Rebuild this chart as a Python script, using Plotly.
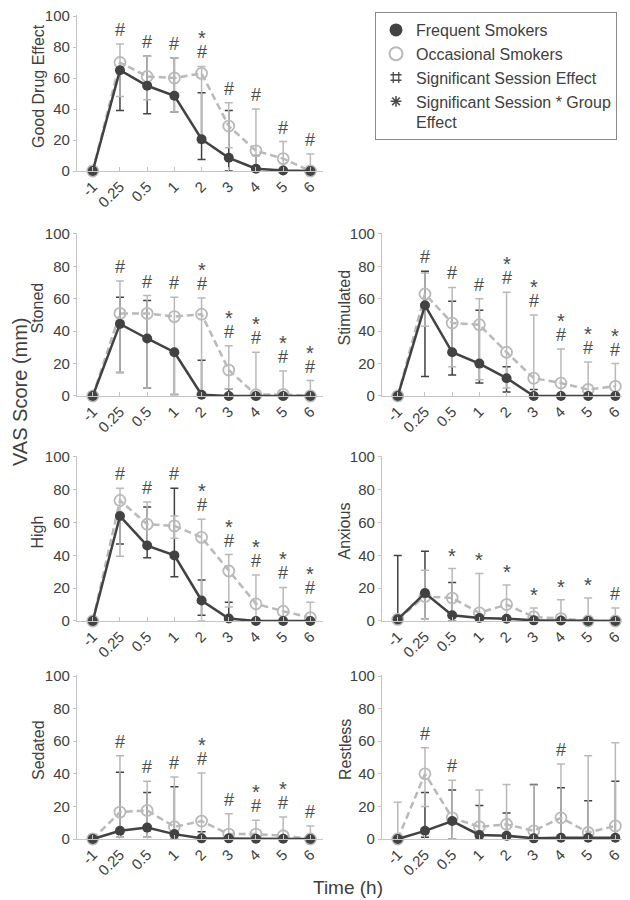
import plotly.graph_objects as go

times = ["-1", "0.25", "0.5", "1", "2", "3", "4", "5", "6"]

# ---- Good Drug Effect ----
good_freq = [0, 65, 55, 48.5, 20.5, 8.5, 1.5, 0.3, 0]
good_freq_lo = [0, 39, 37, 38, 7.5, 0, 0, 0, 0]
good_freq_hi = [0, 65, 74, 73, 50.5, 39, 10, 0.3, 0]
good_occ = [0, 70, 61, 60, 63, 29, 13, 8, 0]
good_occ_lo = [0, 48, 46, 38, 18, 15, 0, 0, 0]
good_occ_hi = [0, 82, 74, 73, 67.5, 44, 40, 19, 11]
good_session = [0, 1, 1, 1, 1, 1, 1, 1, 1]
good_inter = [0, 0, 0, 0, 1, 0, 0, 0, 0]

# ---- Stoned ----
stoned_freq = [0, 44.5, 35.5, 27, 0.8, 0, 0, 0, 0]
stoned_freq_lo = [0, 14.5, 5, 1, 0, 0, 0, 0, 0]
stoned_freq_hi = [0, 61, 59, 27, 22, 4.5, 0, 0, 0]
stoned_occ = [0, 51, 51, 49, 50.5, 16, 0.8, 1, 0]
stoned_occ_lo = [0, 14.5, 5, 1, 0, 4.5, 0, 0, 0]
stoned_occ_hi = [0, 71, 62, 61, 60.5, 31, 27, 15.5, 9.5]
stoned_session = [0, 1, 1, 1, 1, 1, 1, 1, 1]
stoned_inter = [0, 0, 0, 0, 1, 1, 1, 1, 1]

# ---- Stimulated ----
stim_freq = [0, 56, 27, 20, 11, 0, 0, 0, 0]
stim_freq_lo = [0, 12, 13, 8, 2.5, 0, 0, 0, 0]
stim_freq_hi = [0, 77, 58.5, 53, 18, 4, 0, 0, 0]
stim_occ = [0, 63, 45, 44, 27, 11, 8, 4, 6]
stim_occ_lo = [0, 43, 18, 10, 5, 0, 0, 0, 0]
stim_occ_hi = [0, 76, 67, 60, 64, 50, 29, 21, 20]
stim_session = [0, 1, 1, 1, 1, 1, 1, 1, 1]
stim_inter = [0, 0, 0, 0, 1, 1, 1, 1, 1]

# ---- High ----
high_freq = [0, 64, 46, 40, 12.5, 1.5, 0, 0, 0]
high_freq_lo = [0, 47, 38.5, 27, 3.5, 0, 0, 0, 0]
high_freq_hi = [0, 64, 69.5, 81, 25, 11.5, 0, 0, 0]
high_occ = [0, 73.5, 59, 58, 51, 30.5, 10.5, 6, 2]
high_occ_lo = [0, 39.5, 47, 50.5, 0, 8.5, 0, 0, 0]
high_occ_hi = [0, 81, 72.5, 64, 62, 40.5, 28, 20.5, 11.5]
high_session = [0, 1, 1, 1, 1, 1, 1, 1, 1]
high_inter = [0, 0, 0, 0, 1, 1, 1, 1, 1]

# ---- Anxious ----
anx_freq = [1, 17, 3.5, 1.8, 1.4, 0.4, 0.3, 0, 0]
anx_freq_lo = [0, 1, 0, 0, 0, 0, 0, 0, 0]
anx_freq_hi = [40, 42.5, 23.5, 1.8, 1.4, 0.4, 0.3, 0, 0]
anx_occ = [1, 15, 14, 5, 10, 2.5, 1.5, 0, 0]
anx_occ_lo = [0, 1, 0, 0, 0, 0, 0, 0, 0]
anx_occ_hi = [1, 31, 32, 29, 22, 8, 13, 14, 8]
anx_session = [0, 0, 0, 0, 0, 0, 0, 0, 1]
anx_inter = [0, 0, 1, 1, 1, 1, 1, 1, 0]

# ---- Sedated ----
sed_freq = [0, 5, 7, 3, 0.4, 0.4, 0.2, 0.2, 0]
sed_freq_lo = [0, 1, 1, 0, 0, 0, 0, 0, 0]
sed_freq_hi = [0, 41, 28.5, 32, 4.5, 0.4, 0.2, 0.2, 0]
sed_occ = [0, 16.5, 17.5, 7.5, 11, 3, 3, 2, 0]
sed_occ_lo = [0, 1, 1, 0, 0, 0, 0, 0, 0]
sed_occ_hi = [0, 51, 35.5, 38, 40.5, 15.5, 11.5, 13.5, 8]
sed_session = [0, 1, 1, 1, 1, 1, 1, 1, 1]
sed_inter = [0, 0, 0, 0, 1, 0, 1, 1, 0]

# ---- Restless ----
rest_freq = [0, 5, 11, 2.5, 2, 0.4, 0.8, 0.8, 0.8]
rest_freq_lo = [0, 1, 0, 0, 0, 0, 0, 0, 0]
rest_freq_hi = [0, 28.5, 30, 20.5, 16, 33.5, 31.5, 23.5, 35.5]
rest_occ = [0, 40, 13, 7.5, 9, 5, 13, 4, 8]
rest_occ_lo = [0, 20, 0, 0, 0, 0, 0, 0, 0]
rest_occ_hi = [22.5, 56, 36, 30, 33.5, 33, 46, 51, 59]
rest_session = [0, 1, 1, 0, 0, 0, 1, 0, 0]
rest_inter = [0, 0, 0, 0, 0, 0, 0, 0, 0]

panel_titles = ["Good Drug Effect", "Stoned", "Stimulated", "High", "Anxious", "Sedated", "Restless"]
yticks = [0, 20, 40, 60, 80, 100]

panels = [
    (good_freq, good_freq_lo, good_freq_hi, good_occ, good_occ_lo, good_occ_hi, good_session, good_inter),
    (stoned_freq, stoned_freq_lo, stoned_freq_hi, stoned_occ, stoned_occ_lo, stoned_occ_hi, stoned_session, stoned_inter),
    (stim_freq, stim_freq_lo, stim_freq_hi, stim_occ, stim_occ_lo, stim_occ_hi, stim_session, stim_inter),
    (high_freq, high_freq_lo, high_freq_hi, high_occ, high_occ_lo, high_occ_hi, high_session, high_inter),
    (anx_freq, anx_freq_lo, anx_freq_hi, anx_occ, anx_occ_lo, anx_occ_hi, anx_session, anx_inter),
    (sed_freq, sed_freq_lo, sed_freq_hi, sed_occ, sed_occ_lo, sed_occ_hi, sed_session, sed_inter),
    (rest_freq, rest_freq_lo, rest_freq_hi, rest_occ, rest_occ_lo, rest_occ_hi, rest_session, rest_inter),
]

# ---- layout geometry ----
# page has an 8px body margin, so the figure is offset by OFF pixels
OFF = 8
W, H = 630 - OFF, 900 - OFF


def px_x(x):
    return min(max((x - OFF) / W, 0.0), 1.0)


def px_y(y):
    return min(max(1 - (y - OFF) / H, 0.0), 1.0)


grid = [(0, 0), (1, 0), (1, 1), (2, 0), (2, 1), (3, 0), (3, 1)]
row_px = [(171, 16), (396, 234), (621, 457), (839, 676)]  # page y of 0 and of 100
col_px = [(77, 322.6), (382, 627.6)]
YMAX = 100.6
XRANGE = [-0.58, 8.45]

DARK = "#424242"
LIGHT = "#b9b9b9"
TXT = "#404040"
FONT = "Liberation Sans, Arial, sans-serif"

fig = go.Figure()
layout = {}
annotations = []

for i, (title, data) in enumerate(zip(panel_titles, panels)):
    fq, fq_lo, fq_hi, oc, oc_lo, oc_hi, sess, inter = data
    r, c = grid[i]
    n = "" if i == 0 else str(i + 1)
    xa, ya = "x" + n, "y" + n
    z, h = row_px[r]
    top = z - (YMAX / 100.0) * (z - h)
    x0, x1 = col_px[c]
    layout["xaxis" + n] = dict(
        domain=[px_x(x0), px_x(x1)], anchor=ya, type="category", automargin=False,
        categoryorder="array", categoryarray=times, range=XRANGE,
        showline=True, linecolor="#c4c4c4", linewidth=1.2, showgrid=False, zeroline=False,
        ticks="inside", ticklen=4, tickcolor="#c4c4c4", tickangle=-45,
        tickfont=dict(family=FONT, size=15, color=TXT),
    )
    layout["yaxis" + n] = dict(
        domain=[px_y(z), px_y(top)], anchor=xa, range=[0, YMAX], automargin=False,
        tickvals=yticks, showline=True, linecolor="#c4c4c4", linewidth=1.2,
        showgrid=False, zeroline=False, ticks="outside", ticklen=3, tickcolor="#c4c4c4",
        ticklabeloverflow="allow",
        tickfont=dict(family=FONT, size=15, color=TXT),
    )

    # error bars (frequent first, occasional over it)
    fig.add_trace(go.Scatter(
        x=times, y=fq, xaxis=xa, yaxis=ya, mode="markers", showlegend=False,
        marker=dict(size=1, color="rgba(0,0,0,0)"), hoverinfo="skip", cliponaxis=False,
        error_y=dict(type="data", symmetric=False,
                     array=[hv - v for hv, v in zip(fq_hi, fq)],
                     arrayminus=[v - lv for v, lv in zip(fq, fq_lo)],
                     color=DARK, thickness=1.5, width=4)))
    fig.add_trace(go.Scatter(
        x=times, y=oc, xaxis=xa, yaxis=ya, mode="markers", showlegend=False,
        marker=dict(size=1, color="rgba(0,0,0,0)"), hoverinfo="skip", cliponaxis=False,
        error_y=dict(type="data", symmetric=False,
                     array=[hv - v for hv, v in zip(oc_hi, oc)],
                     arrayminus=[v - lv for v, lv in zip(oc, oc_lo)],
                     color=LIGHT, thickness=1.5, width=4)))
    # occasional line
    fig.add_trace(go.Scatter(
        x=times, y=oc, xaxis=xa, yaxis=ya, mode="lines+markers", showlegend=False,
        line=dict(color=LIGHT, width=2.5, dash="7px,4px"), cliponaxis=False,
        marker=dict(symbol="circle-open", size=11, color=LIGHT, line=dict(width=1.8, color=LIGHT))))
    # frequent line
    fig.add_trace(go.Scatter(
        x=times, y=fq, xaxis=xa, yaxis=ya, mode="lines+markers", showlegend=False,
        line=dict(color=DARK, width=2.5), cliponaxis=False,
        marker=dict(symbol="circle", size=10, color=DARK)))

    # significance markers above highest bar (x given as category index)
    for k in range(len(times)):
        top_val = max(fq_hi[k], oc_hi[k], fq[k], oc[k])
        if sess[k]:
            annotations.append(dict(x=k, y=top_val, xref=xa, yref=ya, text="#", showarrow=False,
                                    xanchor="center", yanchor="middle", yshift=14,
                                    font=dict(family=FONT, size=18, color="#4a4a4a")))
        if inter[k]:
            annotations.append(dict(x=k, y=top_val, xref=xa, yref=ya, text="*", showarrow=False,
                                    xanchor="center", yanchor="middle", yshift=28 if sess[k] else 13,
                                    font=dict(family=FONT, size=20, color="#4a4a4a")))

    # panel y title
    tx = 38 if c == 0 else 345
    annotations.append(dict(x=px_x(tx), y=0.5, xref="paper", yref=ya + " domain", text=title,
                            textangle=-90, showarrow=False, yshift=7, xanchor="center", yanchor="middle",
                            font=dict(family=FONT, size=16, color=TXT)))

# legend-only traces
fig.add_trace(go.Scatter(x=[None], y=[None], mode="markers", name="Frequent Smokers",
                         marker=dict(symbol="circle", size=13, color=DARK)))
fig.add_trace(go.Scatter(x=[None], y=[None], mode="markers", name="Occasional Smokers",
                         marker=dict(symbol="circle-open", size=13, color=LIGHT, line=dict(width=2, color=LIGHT))))
fig.add_trace(go.Scatter(x=[None], y=[None], mode="markers", name="Significant Session Effect",
                         marker=dict(symbol="hash-open", size=11, color="#4a4a4a", line=dict(width=1.3, color="#4a4a4a"))))
fig.add_trace(go.Scatter(x=[None], y=[None], mode="markers", name="Significant Session * Group<br>Effect",
                         marker=dict(symbol="asterisk-open", size=9, color="#4a4a4a", line=dict(width=1.5, color="#4a4a4a"))))

annotations.append(dict(x=px_x(20), y=px_y(392), xref="paper", yref="paper", text="VAS Score (mm)",
                        textangle=-90, showarrow=False, xanchor="center", yanchor="middle",
                        font=dict(family=FONT, size=20, color=TXT)))
annotations.append(dict(x=px_x(348), y=px_y(887), xref="paper", yref="paper", text="Time (h)",
                        showarrow=False, xanchor="center", yanchor="middle",
                        font=dict(family=FONT, size=19, color=TXT)))

fig.update_layout(
    width=W, height=H, margin=dict(l=0, r=0, t=0, b=0, autoexpand=False),
    paper_bgcolor="white", plot_bgcolor="white",
    showlegend=True,
    legend=dict(x=px_x(375), y=px_y(12), xanchor="left", yanchor="top",
                bordercolor="#8a8a8a", borderwidth=1, bgcolor="white",
                font=dict(family=FONT, size=16, color=TXT), valign="top",
                tracegroupgap=0, itemwidth=30),
    annotations=annotations,
    **layout,
)

fig.write_html("out.html")
